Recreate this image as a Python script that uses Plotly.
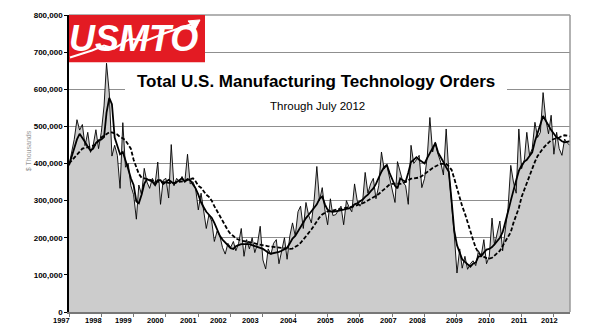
import plotly.graph_objects as go
import pandas as pd

# ---------------- data (values in $ thousands) ----------------
years = list(range(1997, 2013))

monthly = [
    395, 430, 465, 518, 490, 505, 448, 484, 430, 449, 491, 440,   # 1997
    484, 555, 670, 590, 420, 449, 422, 333, 510, 390, 400, 340,   # 1998
    316, 250, 342, 316, 387, 350, 333, 360, 345, 404, 290, 355,   # 1999
    360, 307, 451, 340, 360, 351, 365, 350, 425, 345, 351, 333,   # 2000
    275, 320, 271, 225, 262, 245, 190, 218, 205, 174, 156, 185,   # 2001
    174, 190, 165, 185, 225, 150, 195, 170, 200, 160, 185, 231,   # 2002
    140, 116, 170, 155, 185, 195, 130, 170, 200, 142, 205, 240,   # 2003
    205, 270, 285, 225, 295, 260, 240, 300, 392, 300, 335, 275,   # 2004
    235, 305, 260, 262, 275, 285, 235, 300, 282, 270, 345, 300,   # 2005
    285, 300, 376, 320, 345, 360, 305, 340, 431, 385, 395, 360,   # 2006
    330, 295, 405, 375, 350, 340, 290, 449, 400, 410, 422, 335,   # 2007
    360, 420, 524, 431, 458, 425, 404, 369, 493, 377, 300, 210,   # 2008
    105, 170, 118, 150, 115, 130, 138, 125, 165, 150, 195, 130,   # 2009
    150, 253, 180, 209, 245, 165, 230, 280, 395, 350, 320, 493,   # 2010
    386, 410, 484, 422, 440, 511, 470, 484, 591, 520, 480, 530,   # 2011
    425, 484, 440, 422, 466, 455, 449,                            # 2012 (thru July)
]

ma3 = [
    395, 420, 445, 465, 480, 470, 458, 445, 435, 440, 455, 462,   # 1997
    465, 471, 537, 577, 560, 470, 445, 425, 431, 410, 385, 360,   # 1998
    342, 298, 293, 316, 345, 358, 355, 351, 342, 355, 355, 345,   # 1999
    350, 356, 351, 345, 350, 356, 360, 351, 358, 355, 345, 333,   # 2000
    316, 295, 283, 270, 262, 254, 240, 220, 205, 195, 187, 178,   # 2001
    172, 170, 177, 180, 183, 183, 183, 183, 180, 178, 175, 172,   # 2002
    170, 165, 160, 157, 158, 160, 162, 165, 168, 173, 185, 198,   # 2003
    205, 218, 228, 240, 253, 262, 271, 280, 290, 305, 311, 290,   # 2004
    275, 271, 270, 271, 272, 274, 276, 278, 279, 283, 290, 293,   # 2005
    298, 303, 310, 316, 325, 333, 345, 362, 378, 390, 396, 375,   # 2006
    356, 340, 333, 360, 355, 351, 375, 404, 410, 417, 410, 404,   # 2007
    400, 415, 428, 440, 455, 430, 415, 404, 390, 378, 300, 220,   # 2008
    180, 160, 142, 135, 128, 122, 130, 133, 150, 150, 160, 168,   # 2009
    170, 175, 182, 190, 200, 215, 240, 270, 300, 330, 355, 380,   # 2010
    395, 405, 410, 420, 430, 460, 480, 505, 528, 515, 505, 490,   # 2011
    480, 470, 466, 460, 457, 458, 460,                            # 2012
]

ma12 = [
    400, 408, 416, 424, 432, 440, 442, 444, 446, 448, 452, 462,   # 1997
    470, 475, 480, 484, 484, 482, 478, 471, 468, 462, 452, 440,   # 1998
    410, 390, 372, 362, 360, 357, 355, 353, 352, 351, 351, 350,   # 1999
    349, 348, 347, 348, 349, 350, 351, 353, 356, 359, 360, 352,   # 2000
    340, 335, 325, 316, 310, 300, 285, 271, 260, 245, 232, 220,   # 2001
    210, 205, 198, 194, 192, 191, 190, 188, 186, 185, 183, 181,   # 2002
    179, 178, 177, 176, 175, 174, 173, 172, 171, 170, 170, 171,   # 2003
    175, 180, 186, 195, 203, 212, 222, 233, 245, 255, 263, 268,   # 2004
    271, 272, 274, 276, 277, 278, 279, 280, 281, 283, 285, 288,   # 2005
    290, 293, 296, 300, 304, 308, 313, 318, 324, 330, 337, 343,   # 2006
    345, 346, 346, 345, 347, 350, 355, 359, 360, 360, 362, 366,   # 2007
    372, 378, 384, 388, 392, 396, 399, 399, 399, 392, 383, 360,   # 2008
    333, 310, 285, 265, 240, 218, 195, 173, 160, 152, 148, 145,   # 2009
    144, 146, 152, 158, 165, 178, 190, 200, 215, 240, 258, 280,   # 2010
    310, 330, 345, 365, 390, 405, 420, 432, 441, 449, 456, 463,   # 2011
    466, 468, 470, 474, 476, 475, 473,                            # 2012
]

# x-label horizontal nudges (px) relative to each year's tick
label_shift = [-8, -8, -10, -10, -10, -12, -12, -6, -2, -4, -4, -7, -2, -3, -3, -4]

months = pd.date_range("1997-01-01", periods=len(monthly), freq="MS")
SCALE = 1000

# ---------------- layout geometry helpers ----------------
L, T, R, B = 69, 11, 570, 312
W, H = 595, 335

def xp(px):
    return (px - L) / (R - L)

def yp(py):
    return (B - py) / (B - T)

FAM = "Liberation Sans, Arial, sans-serif"

fig = go.Figure()

fig.add_trace(go.Scatter(
    x=months, y=[v * SCALE for v in monthly], mode="lines",
    line=dict(color="black", width=0.9), fill="tozeroy", fillcolor="#cccccc",
    hoverinfo="skip", showlegend=False))

fig.add_trace(go.Scatter(
    x=months, y=[v * SCALE for v in ma12], mode="lines",
    line=dict(color="black", width=1.8, dash="4px,2px"),
    hoverinfo="skip", showlegend=False))

fig.add_trace(go.Scatter(
    x=months, y=[v * SCALE for v in ma3], mode="lines",
    line=dict(color="black", width=1.8),
    hoverinfo="skip", showlegend=False))

yfont = dict(family=FAM, size=8, color="black", weight="bold")
xfont = dict(family=FAM, size=7.5, color="black", weight="bold")

fig.update_layout(
    width=W, height=H,
    margin=dict(l=L, r=W - R, t=T, b=H - B),
    paper_bgcolor="white", plot_bgcolor="white",
    showlegend=False,
    xaxis=dict(
        range=[months[0], months[-1]],
        showgrid=False, zeroline=False,
        showline=True, linecolor="#777777", linewidth=1.5,
        ticks="outside", ticklen=3, tickcolor="#777777",
        tick0="1997-01-01", dtick="M12",
        showticklabels=False,
    ),
    yaxis=dict(
        range=[0, 800 * SCALE], dtick=100 * SCALE, tickformat=",d",
        showgrid=True, gridcolor="#8f8f8f", gridwidth=1,
        zeroline=False,
        showline=True, linecolor="black", linewidth=1.5,
        ticks="outside", ticklen=3, tickcolor="black",
        tickfont=yfont,
    ),
)

shapes = []
# top and right border
shapes.append(dict(type="line", xref="paper", yref="paper", x0=0, x1=1, y0=1, y1=1,
                   line=dict(color="#666666", width=1.2), layer="above"))
shapes.append(dict(type="line", xref="paper", yref="paper", x0=1, x1=1, y0=0, y1=1,
                   line=dict(color="#999999", width=1.5), layer="above"))
# white box behind title
shapes.append(dict(type="rect", xref="paper", yref="paper",
                   x0=xp(125), x1=xp(507), y0=yp(113), y1=yp(60),
                   fillcolor="white", line=dict(width=0), layer="above"))
# logo red box
shapes.append(dict(type="rect", xref="paper", yref="paper",
                   x0=xp(69), x1=xp(205), y0=yp(59), y1=yp(11),
                   fillcolor="#e31b23", line=dict(width=0), layer="above"))

annotations = []
annotations.append(dict(xref="paper", yref="paper", x=xp(133), y=yp(35),
                        text="<b><i>USMTO</i></b>", showarrow=False,
                        xanchor="center", yanchor="middle",
                        font=dict(family=FAM, size=36, color="white")))

# swoosh over logo (decoration)
sw = [(70, 54), (92, 47), (104, 42), (114, 45), (130, 35), (146, 37), (166, 29), (192, 20)]
def path_from(pts):
    return "M " + " L ".join(f"{xp(a):.4f},{yp(b):.4f}" for a, b in pts)
swoosh = dict(type="path", xref="paper", yref="paper", path=path_from(sw), layer="above")
shapes_sw_red = dict(swoosh, line=dict(color="#e31b23", width=5))
shapes_sw_white = dict(swoosh, line=dict(color="white", width=2))
arrow = dict(type="path", xref="paper", yref="paper", layer="above",
             path=path_from([(200, 16), (188, 17), (195, 26)]) + " Z",
             fillcolor="white", line=dict(color="white", width=1))

annotations.append(dict(xref="paper", yref="paper", x=xp(316), y=yp(78),
                        text="<b>Total U.S. Manufacturing Technology Orders</b>",
                        showarrow=False, xanchor="center", yanchor="middle",
                        font=dict(family=FAM, size=17, color="black")))
annotations.append(dict(xref="paper", yref="paper", x=xp(317), y=yp(103),
                        text="Through July 2012", showarrow=False,
                        xanchor="center", yanchor="middle",
                        font=dict(family=FAM, size=11.5, color="black")))
annotations.append(dict(xref="paper", yref="paper", x=xp(28), y=yp(149),
                        text="$ Thousands", showarrow=False, textangle=-90,
                        xanchor="center", yanchor="middle",
                        font=dict(family=FAM, size=7, color="#999999")))

for yr, sh in zip(years, label_shift):
    annotations.append(dict(xref="x", yref="paper", x=f"{yr}-01-01", y=yp(321),
                            xshift=sh, text=str(yr), showarrow=False,
                            xanchor="center", yanchor="middle",
                            font=xfont))

fig.update_layout(shapes=shapes + [shapes_sw_red, shapes_sw_white, arrow],
                  annotations=annotations)

fig.write_html("out.html")
